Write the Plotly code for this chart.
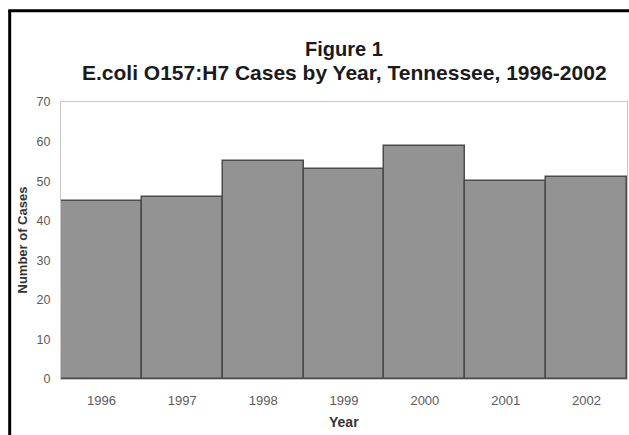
import plotly.graph_objects as go

# Annual E. coli O157:H7 case counts, Tennessee
years = ["1996", "1997", "1998", "1999", "2000", "2001", "2002"]
cases = [45, 46, 55, 53, 59, 50, 51]
y_ticks = [0, 10, 20, 30, 40, 50, 60, 70]

title_line1 = "Figure 1"
title_line2 = "E.coli O157:H7 Cases by Year, Tennessee, 1996-2002"
x_title = "Year"
y_title = "Number of Cases"

FONT = "Liberation Sans, Arial, sans-serif"
W, H = 629, 435
ML, MR, MT, MB = 61, 2, 102, 56
PW, PH = W - ML - MR, H - MT - MB


def px_x(px):
    """Pixel x on the page -> paper coordinate."""
    return (px - ML) / PW


def px_y(py):
    """Pixel y on the page (from top) -> paper coordinate."""
    return 1 + (MT - py) / PH


fig = go.Figure(
    go.Bar(
        x=years,
        y=cases,
        marker=dict(color="#939393", line=dict(color="#4a4a4a", width=1.5)),
        hoverinfo="x+y",
    )
)

fig.update_layout(
    width=W,
    height=H,
    margin=dict(l=ML, r=MR, t=MT, b=MB, pad=0),
    paper_bgcolor="white",
    plot_bgcolor="white",
    bargap=0,
    showlegend=False,
    font=dict(family=FONT, color="#555555"),
)

fig.update_xaxes(
    type="category",
    showgrid=False,
    showline=True,
    linecolor="#c8c8c8",
    linewidth=1,
    mirror=True,
    ticks="",
    tickfont=dict(size=13, color="#5a5a5a"),
    ticklabelstandoff=9,
)
fig.update_yaxes(
    range=[0, 70],
    tickvals=y_ticks,
    showgrid=False,
    zeroline=False,
    showline=True,
    linecolor="#c8c8c8",
    linewidth=1,
    mirror=True,
    ticks="",
    tickfont=dict(size=12.5, color="#5a5a5a"),
    ticklabelstandoff=7,
)

annotations = [
    dict(text=f"<b>{title_line1}</b>", x=0.5, y=px_y(49),
         font=dict(size=20, color="#1a1a1a")),
    dict(text=f"<b>{title_line2}</b>", x=0.5, y=px_y(72.5),
         font=dict(size=21, color="#1a1a1a")),
    dict(text=f"<b>{x_title}</b>", x=0.5, y=px_y(422),
         font=dict(size=14, color="#333333")),
    dict(text=f"<b>{y_title}</b>", x=px_x(22), y=0.5, textangle=-90,
         font=dict(size=13, color="#333333")),
]
for a in annotations:
    a.update(xref="paper", yref="paper", showarrow=False,
             xanchor="center", yanchor="middle")
fig.update_layout(annotations=annotations)

# Black frame around the chart (left and top edges fall inside the page)
fig.add_shape(type="line", xref="paper", yref="paper",
              x0=px_x(9.7), x1=px_x(9.7), y0=px_y(H + 10), y1=px_y(10.7),
              line=dict(color="black", width=3))
fig.add_shape(type="line", xref="paper", yref="paper",
              x0=px_x(8.2), x1=px_x(W + 10), y0=px_y(10.7), y1=px_y(10.7),
              line=dict(color="black", width=3))

fig.write_html("out.html")
